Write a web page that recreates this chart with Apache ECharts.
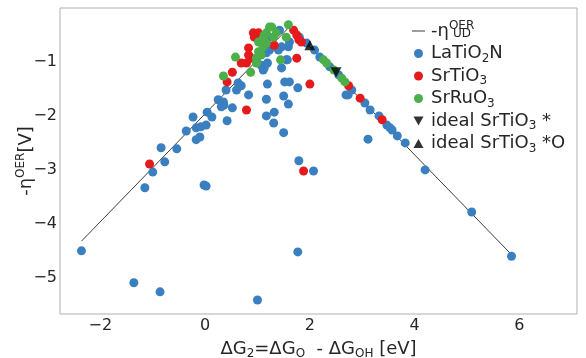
<!DOCTYPE html>
<html>
<head>
<meta charset="utf-8">
<script src="https://cdn.jsdelivr.net/npm/echarts@6/dist/echarts.min.js"></script>
<style>
  html, body { margin: 0; padding: 0; background: #fff; }
  #chart { width: 586px; height: 358px; }
</style>
</head>
<body>
<div id="chart"></div>
<script>
// volcano line -eta_UD
const etaLine = [[-2.36, -4.32], [1.62, -0.34], [5.85, -4.57]];

const laTiO2N = [
  [-2.36, -4.5], [-1.36, -5.09], [-0.86, -5.26], [1.0, -5.41], [1.77, -4.52],
  [-1.15, -3.33], [-0.02, -3.28], [0.02, -3.30], [-1.0, -3.04], [-0.77, -2.85],
  [-0.84, -2.59], [-0.54, -2.61], [-0.36, -2.28], [-0.23, -2.02], [-0.17, -2.22],
  [-0.08, -2.20], [0.02, -2.17], [-0.17, -2.44], [-0.10, -2.39], [0.04, -1.93],
  [0.13, -2.02], [0.25, -1.70], [0.35, -1.74], [0.36, -1.80], [0.31, -1.83],
  [0.52, -1.85], [0.42, -2.09], [0.40, -1.52], [0.63, -1.39], [0.69, -1.44],
  [0.60, -1.52], [0.83, -1.61], [1.17, -1.69], [1.19, -1.41], [1.32, -1.93],
  [1.17, -2.0], [1.31, -2.13], [1.50, -2.31], [1.59, -1.78], [1.50, -1.63],
  [1.52, -1.37], [1.61, -1.37], [1.77, -1.48], [1.46, -1.11], [1.57, -0.96],
  [1.11, -1.15], [1.07, -1.06], [1.19, -1.02], [1.13, -1.11], [1.23, -0.54],
  [0.98, -0.96], [1.17, -0.83], [1.21, -0.69], [1.23, -0.78], [1.42, -0.41],
  [1.40, -0.78], [1.46, -0.72], [1.55, -0.96], [1.61, -0.63], [1.59, -0.72],
  [1.79, -2.83], [2.07, -3.02], [1.80, -0.54], [1.94, -0.65], [2.09, -0.78],
  [2.19, -0.91], [2.38, -1.09], [2.55, -1.24], [2.80, -1.52], [2.69, -1.61],
  [2.73, -1.61], [3.05, -1.76], [3.15, -1.89], [3.32, -2.0], [3.47, -2.17],
  [3.53, -2.22], [3.57, -2.26], [3.67, -2.37], [3.82, -2.50], [3.11, -2.43],
  [4.2, -3.0], [5.09, -3.78], [5.85, -4.6]
];

const srTiO3 = [
  [-1.06, -2.89], [0.79, -1.89], [2.0, -1.41], [1.88, -3.02], [0.42, -1.37],
  [0.52, -1.19], [0.69, -1.02], [0.79, -1.02], [0.83, -0.74], [0.83, -0.87],
  [0.88, -0.93], [0.92, -0.46], [1.02, -0.46], [0.94, -0.54], [1.07, -0.59],
  [1.32, -0.69], [1.75, -0.93], [1.69, -0.41], [1.75, -0.50], [1.79, -0.59],
  [1.84, -0.63], [2.74, -1.44], [2.96, -1.67], [3.38, -2.07]
];

const srRuO3 = [
  [0.35, -1.26], [0.58, -0.91], [0.87, -1.19], [1.02, -0.81], [0.98, -0.93],
  [1.13, -0.50], [1.17, -0.65], [1.11, -0.72], [1.07, -0.87], [1.23, -0.35],
  [1.02, -0.63], [1.11, -0.56], [1.17, -0.46], [1.27, -0.35], [1.31, -0.54],
  [1.36, -0.46], [1.44, -0.96], [1.55, -0.54], [1.59, -0.31], [0.98, -1.02],
  [2.26, -0.96], [2.32, -1.02], [2.46, -1.15], [2.61, -1.30], [2.67, -1.37]
];

const idealStar = [[2.50, -1.19]];
const idealStarO = [[2.0, -0.69]];

const legendLabels = {
  eta: '-η{sup|OER}',
  LaTiO2N: 'LaTiO{sub|2}N',
  SrTiO3: 'SrTiO{sub|3}',
  SrRuO3: 'SrRuO{sub|3}',
  idealStar: 'ideal SrTiO{sub|3} *',
  idealStarO: 'ideal SrTiO{sub|3} *O'
};

const downTri = 'path://M0,0 L10,0 L5,9 Z';
const upTri = 'path://M5,0 L10,9 L0,9 Z';
const lineIcon = 'path://M0,0 L13,0 L13,1 L0,1 Z';
const FONT = 'DejaVu Sans';
const TXT = '#262626';
const LINE = '#3c3c3c';

const richSub = {
  sub: { fontSize: 12, fontFamily: FONT, color: TXT, lineHeight: 12, verticalAlign: 'bottom' },
  sup: { fontSize: 12, fontFamily: FONT, color: TXT, lineHeight: 12, verticalAlign: 'top' }
};

const chart = echarts.init(document.getElementById('chart'));

chart.setOption({
  animation: false,
  grid: {
    left: 60, right: 9, top: 8, bottom: 44,
    outerBoundsMode: 'none',
    containLabel: false,
    show: true, borderColor: '#b0b0b0', borderWidth: 1
  },
  xAxis: {
    type: 'value',
    min: -2.77, max: 7.1,
    splitLine: { show: false },
    axisLine: { show: false },
    axisTick: { show: false },
    axisLabel: {
      fontSize: 16, fontFamily: FONT, color: TXT, margin: 4,
      formatter: v => (Number.isInteger(v) && v % 2 === 0) ? String(v).replace('-', '\u2212') : ''
    },
    name: 'ΔG{sub|2}=ΔG{sub|O}  - ΔG{sub|OH} [eV]',
    nameLocation: 'middle',
    nameGap: 24,
    nameMoveOverlap: false,
    nameTextStyle: {
      fontSize: 18, fontFamily: FONT, color: TXT, lineHeight: 22,
      rich: richSub
    }
  },
  yAxis: {
    type: 'value',
    min: -5.67, max: 0,
    splitLine: { show: false },
    axisLine: { show: false },
    axisTick: { show: false },
    axisLabel: {
      fontSize: 16, fontFamily: FONT, color: TXT, margin: 3,
      formatter: v => (Number.isInteger(v) && v < 0) ? String(v).replace('-', '\u2212') : ''
    },
    name: '-η{sup|OER}[V]',
    nameLocation: 'middle',
    nameGap: 23,
    nameMoveOverlap: false,
    nameTextStyle: {
      fontSize: 18, fontFamily: FONT, color: TXT, lineHeight: 22,
      rich: richSub
    }
  },
  legend: {
    orient: 'vertical',
    left: 407, top: 15,
    itemGap: 0.5,
    itemWidth: 13, itemHeight: 9,
    textStyle: {
      fontSize: 18, fontFamily: FONT, color: TXT, lineHeight: 22,
      padding: [0, 0, 0, 1],
      rich: richSub
    },
    formatter: name => legendLabels[name],
    data: [
      { name: 'eta', icon: lineIcon, itemStyle: { color: LINE } },
      { name: 'LaTiO2N', icon: 'circle' },
      { name: 'SrTiO3', icon: 'circle' },
      { name: 'SrRuO3', icon: 'circle' },
      { name: 'idealStar', icon: downTri },
      { name: 'idealStarO', icon: upTri }
    ]
  },
  graphic: [{
    type: 'text',
    left: 453, top: 28,
    style: { text: 'UD', fontSize: 12, fontFamily: FONT, fill: TXT }
  }],
  series: [
    {
      name: 'eta', type: 'line', data: etaLine,
      symbol: 'none', z: 1,
      itemStyle: { color: LINE },
      lineStyle: { color: LINE, width: 1 }
    },
    {
      name: 'LaTiO2N', type: 'scatter', data: laTiO2N,
      symbolSize: 9, z: 2,
      itemStyle: { color: '#3a7fbf', opacity: 1 }
    },
    {
      name: 'SrTiO3', type: 'scatter', data: srTiO3,
      symbolSize: 9, z: 3,
      itemStyle: { color: '#e41a1c', opacity: 1 }
    },
    {
      name: 'SrRuO3', type: 'scatter', data: srRuO3,
      symbolSize: 9, z: 4,
      itemStyle: { color: '#4daf4a', opacity: 1 }
    },
    {
      name: 'idealStar', type: 'scatter', data: idealStar,
      symbol: downTri, symbolSize: [11, 10], z: 5,
      itemStyle: { color: '#000' }
    },
    {
      name: 'idealStarO', type: 'scatter', data: idealStarO,
      symbol: upTri, symbolSize: [11, 10], z: 5,
      itemStyle: { color: '#000' }
    }
  ]
});
</script>
</body>
</html>
